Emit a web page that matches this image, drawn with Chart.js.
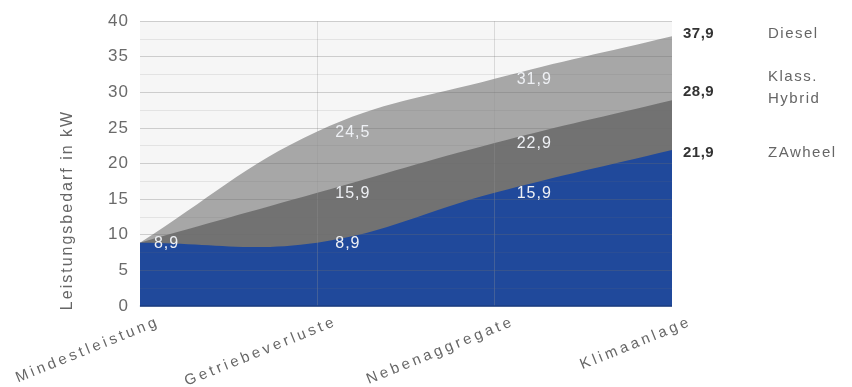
<!DOCTYPE html>
<html>
<head>
<meta charset="utf-8">
<script src="https://cdn.jsdelivr.net/npm/chart.js@4"></script>
<style>
  html, body { margin: 0; padding: 0; background: #fff; }
  #wrap { width: 852px; height: 387px; }
</style>
</head>
<body>
<div id="wrap"><canvas id="chart" width="852" height="387"></canvas></div>
<script>
// Daten (Leistungsbedarf in kW)
const categories = ['Mindestleistung', 'Getriebeverluste', 'Nebenaggregate', 'Klimaanlage'];
const diesel  = [8.9, 24.5, 31.9, 37.9];
const hybrid  = [8.9, 15.9, 22.9, 28.9];
const zawheel = [8.9, 8.9, 15.9, 21.9];
const seriesNames = [['ZAwheel'], ['Klass.', 'Hybrid'], ['Diesel']];

const FONT = '"Liberation Sans", Arial, sans-serif';
const fmt = (v) => v.toFixed(1).replace('.', ',');

// Hintergrund, Werte-Labels, Achsenbeschriftung, rechte Legende
const deco = {
  id: 'deco',
  beforeDraw(chart) {
    const { ctx, chartArea: a } = chart;
    ctx.save();
    ctx.fillStyle = '#f6f6f6';
    ctx.fillRect(a.left, a.top, a.right - a.left, a.bottom - a.top);
    ctx.restore();
    ctx.letterSpacing = '1px';
  },
  afterDraw(chart) {
    const { ctx, chartArea: a, scales } = chart;
    ctx.save();

    // Grundlinie unter der blauen Fläche
    ctx.strokeStyle = '#1a3d82';
    ctx.lineWidth = 1.5;
    ctx.beginPath();
    ctx.moveTo(a.left, a.bottom);
    ctx.lineTo(a.right, a.bottom);
    ctx.stroke();

    // Werte in den Flächen (Punkt 0 nur einmal, letzter Punkt rechts außen)
    ctx.font = `16px ${FONT}`;
    ctx.letterSpacing = '1px';
    ctx.fillStyle = '#eef0f4';
    ctx.textAlign = 'left';
    ctx.textBaseline = 'middle';
    chart.data.datasets.forEach((ds, di) => {
      const meta = chart.getDatasetMeta(di);
      ds.data.forEach((v, i) => {
        if (i === ds.data.length - 1) return;
        if (i === 0 && di !== 0) return;
        const p = meta.data[i];
        ctx.fillText(fmt(v), p.x + 14 + 4 * i, p.y + 1);
      });
    });

    // rechte Legende
    chart.data.datasets.forEach((ds, di) => {
      const last = ds.data[ds.data.length - 1];
      const y = scales.y.getPixelForValue(last) + ds.labelShift;
      ctx.font = `bold 15px ${FONT}`;
      ctx.letterSpacing = '0.5px';
      ctx.fillStyle = '#333';
      ctx.fillText(fmt(last), 683, y);
      ctx.font = `15px ${FONT}`;
      ctx.letterSpacing = '1.5px';
      ctx.fillStyle = '#666';
      const lines = seriesNames[di];
      lines.forEach((t, li) => {
        ctx.fillText(t, 768, y + (li - (lines.length - 1) / 2) * 22 - 4 * (lines.length - 1));
      });
    });

    // x-Beschriftung, gedreht
    ctx.font = `15px ${FONT}`;
    ctx.letterSpacing = '3.3px';
    ctx.fillStyle = '#666';
    ctx.textAlign = 'right';
    categories.forEach((c, i) => {
      const x = scales.x.getPixelForValue(i);
      ctx.save();
      ctx.translate(x + 19, a.bottom + 15);
      ctx.rotate(-22 * Math.PI / 180);
      ctx.fillText(c, 0, 0);
      ctx.restore();
    });

    // y-Titel
    ctx.font = `16px ${FONT}`;
    ctx.letterSpacing = '2px';
    ctx.textAlign = 'center';
    ctx.translate(68, 210);
    ctx.rotate(-Math.PI / 2);
    ctx.fillText('Leistungsbedarf in kW', 0, 0);
    ctx.restore();
  }
};

new Chart(document.getElementById('chart'), {
  type: 'line',
  data: {
    labels: categories,
    datasets: [
      { label: 'ZAwheel', data: zawheel, backgroundColor: '#20499b', labelShift: 3 },
      { label: 'Klass. Hybrid', data: hybrid, backgroundColor: '#727272', labelShift: -8 },
      { label: 'Diesel', data: diesel, backgroundColor: '#a7a7a7', labelShift: -2 },
    ].map((d) => ({ ...d, fill: 'origin', borderWidth: 0, pointRadius: 0, tension: 0.4 })),
  },
  options: {
    responsive: false,
    animation: false,
    events: [],
    layout: { padding: { left: 99, right: 180, top: 12, bottom: 81 } },
    plugins: { legend: { display: false }, tooltip: { enabled: false } },
    scales: {
      x: {
        offset: false,
        ticks: { display: false },
        grid: {
          drawTicks: false, z: 1,
          color: (c) => (c.index === 0 || c.index === categories.length - 1) ? 'rgba(0,0,0,0)' : 'rgba(150,150,150,0.3)',
        },
        border: { display: false },
      },
      y: {
        min: 0, max: 40,
        ticks: {
          stepSize: 2.5, autoSkip: false, padding: 11,
          callback: (v) => (v % 5 === 0 ? v : ''),
          font: { size: 17, family: FONT }, color: '#6a6a6a',
        },
        grid: {
          drawTicks: false, z: 1,
          color: (c) => (c.tick && c.tick.value % 5 === 0) ? 'rgba(110,110,110,0.3)' : 'rgba(110,110,110,0.14)',
        },
        border: { display: false },
      },
    },
  },
  plugins: [deco],
});
</script>
</body>
</html>
